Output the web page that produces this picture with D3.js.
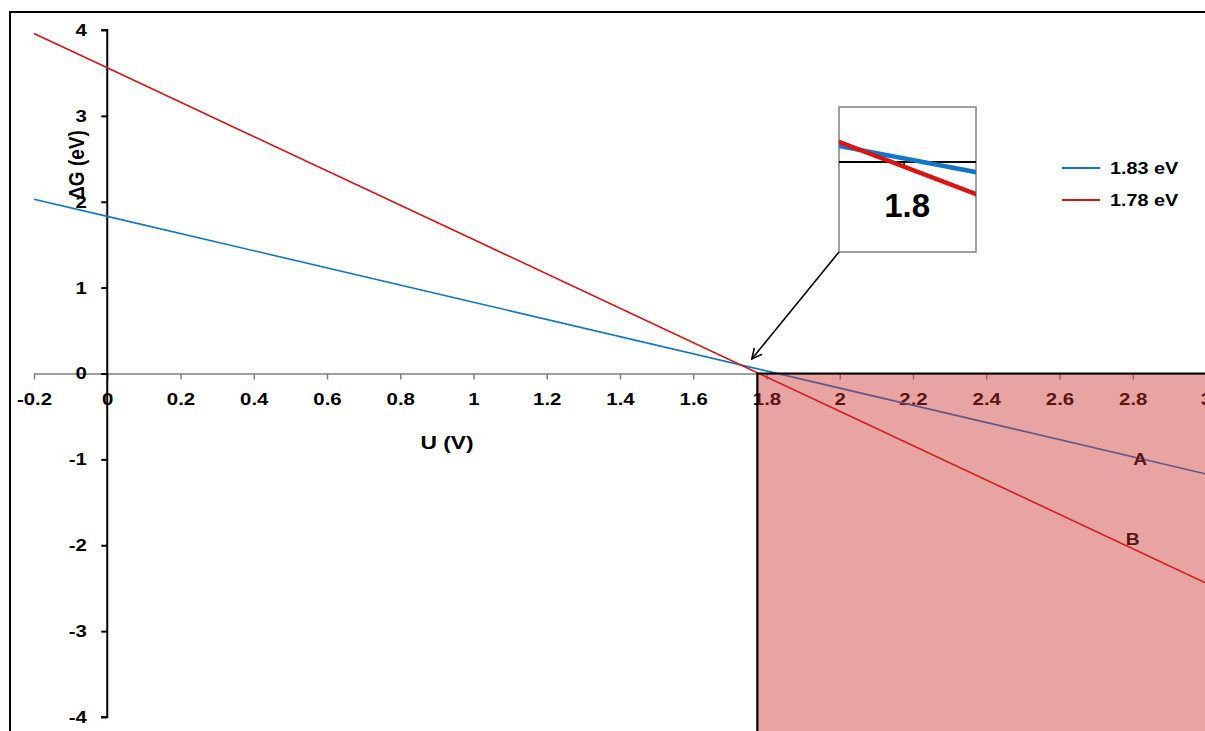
<!DOCTYPE html>
<html><head><meta charset="utf-8">
<script src="https://cdn.jsdelivr.net/npm/d3@7"></script>
<style>body{margin:0;background:#fff}svg{display:block}</style>
</head><body><svg id="c" width="1205" height="731"></svg>
<script>
const uValues = [-0.2, 0, 1, 2, 3];
const blueValues = [2.03, 1.83, 0.83, -0.17, -1.17];   // 1.83 eV
const redValues  = [3.96, 3.56, 1.56, -0.44, -2.44];   // 1.78 eV
const seriesNames = ["1.83 eV", "1.78 eV"];
const xTicks = [-0.2,0,0.2,0.4,0.6,0.8,1,1.2,1.4,1.6,1.8,2,2.2,2.4,2.6,2.8,3];
const yTicks = [-4,-3,-2,-1,0,1,2,3,4];
const thresholdU = 1.775;
const insetTick = 1.8;
const arrowTarget = [1.76, 0.17];

const FONT = '"Liberation Sans", Arial, sans-serif';
const SX = 1.2; // horizontal stretch of the reference text
const svg = d3.select("#c");
const x = d3.scaleLinear().domain([-0.2, 3]).range([34, 1206]);
const y = d3.scaleLinear().domain([-4, 4]).range([717, 30]);
const colors = ["#1276c8", "#d81414"];
const series = [blueValues, redValues];
const fmt = d => String(d);

function label(g, px, py, txt, size, anchor, sx) {
  return g.append("text").attr("transform", `translate(${px},${py}) scale(${sx||SX},1)`)
    .attr("text-anchor", anchor || "start").attr("font-family", FONT).attr("font-weight", "bold")
    .attr("font-size", size).attr("fill", "#000").text(txt);
}

// outer frame
svg.append("rect").attr("x",10).attr("y",12).attr("width",1220).attr("height",740)
  .attr("fill","none").attr("stroke","#000").attr("stroke-width",2);

// x axis (gray) at y=0
const xAxis = d3.axisBottom(x).tickValues(xTicks).tickSize(6).tickFormat(fmt);
const gx = svg.append("g").attr("transform",`translate(0,${y(0)})`).call(xAxis);
gx.select(".domain").attr("stroke","#808080").attr("stroke-width",1.5).attr("d",`M${x(-0.2)},0.5H${x(3)}`);
gx.selectAll(".tick line").attr("stroke","#808080").attr("stroke-width",1.5);
gx.selectAll(".tick text").attr("fill","#000").attr("font-size",17).attr("dy","0").attr("y",32)
  .attr("font-family",FONT).attr("font-weight","bold").attr("transform",`scale(${SX},1)`);

// y axis at x=0
const yAxis = d3.axisLeft(y).tickValues(yTicks).tickSize(6).tickFormat(fmt);
const gy = svg.append("g").attr("transform",`translate(${x(0)},0)`).call(yAxis);
gy.select(".domain").attr("stroke","#000").attr("stroke-width",2).attr("d",`M-6,${y(4)}H0V${y(-4)}H-6`);
gy.selectAll(".tick line").attr("stroke","#000").attr("stroke-width",2);
gy.selectAll(".tick text").attr("fill","#000").attr("font-size",17).attr("x",-17)
  .attr("font-family",FONT).attr("font-weight","bold").attr("transform",`scale(${SX},1)`);

// axis titles
label(svg, 447, 449, "U (V)", 19, "middle");
svg.append("text").attr("transform",`translate(84,165) scale(${SX},1) rotate(-90)`).attr("text-anchor","middle")
  .attr("font-family",FONT).attr("font-weight","bold").attr("font-size",19).text("ΔG (eV)");

// lines
const line = d3.line().x((d,i)=>x(uValues[i])).y(d=>y(d));
series.forEach((s,k)=>{
  svg.append("path").datum(s).attr("d",line).attr("fill","none").attr("stroke",colors[k]).attr("stroke-width",1.6);
});

// A, B labels
label(svg, x(2.82), y(-1.0)+6, "A", 16, "middle");
label(svg, x(2.80), y(-1.93)+6, "B", 16, "middle");

// shaded region overlay
svg.append("rect").attr("x",x(thresholdU)).attr("y",y(0)).attr("width",600).attr("height",500)
  .attr("fill","rgb(203,45,45)").attr("fill-opacity",0.44).attr("stroke","none");
svg.append("path").attr("d",`M${x(thresholdU)},740V${y(0)}H1210`).attr("fill","none").attr("stroke","#000").attr("stroke-width",2.2);

// legend
const lg = svg.append("g");
seriesNames.forEach((n,k)=>{
  const yy = 168 + k*32;
  lg.append("line").attr("x1",1062).attr("x2",1100).attr("y1",yy).attr("y2",yy).attr("stroke",colors[k]).attr("stroke-width",2);
  label(lg, 1110, yy+6, n, 16.5, "start");
});

// inset
const ix = d3.scaleLinear().domain([1.695, 1.916]).range([839, 976]);
const iy = d3.scaleLinear().domain([-0.763, 0.466]).range([252, 107]);
const inset = svg.append("g");
inset.append("rect").attr("x",839).attr("y",107).attr("width",137).attr("height",145).attr("fill","#fff").attr("stroke","#808080").attr("stroke-width",1.5);
svg.append("clipPath").attr("id","ic").append("rect").attr("x",839).attr("y",107).attr("width",137).attr("height",145);
const ig = inset.append("g").attr("clip-path","url(#ic)");
ig.append("line").attr("x1",839).attr("x2",976).attr("y1",iy(0)).attr("y2",iy(0)).attr("stroke","#000").attr("stroke-width",2);
ig.append("line").attr("x1",ix(insetTick)).attr("x2",ix(insetTick)).attr("y1",iy(0)).attr("y2",iy(0)+5).attr("stroke","#000").attr("stroke-width",1.5);
const iline = d3.line().x((d,i)=>ix(uValues[i])).y(d=>iy(d));
series.forEach((s,k)=>{
  ig.append("path").datum(s).attr("d",iline).attr("fill","none").attr("stroke",colors[k]).attr("stroke-width",4.5);
});
label(inset, ix(insetTick)+3, 217, fmt(insetTick), 33, "middle", 1.0);

// arrow
svg.append("defs").append("marker").attr("id","ah").attr("viewBox","0 0 12 12").attr("refX",11).attr("refY",6)
  .attr("markerWidth",12).attr("markerHeight",12).attr("markerUnits","userSpaceOnUse").attr("orient","auto")
  .append("path").attr("d","M1,1L11,6L1,11").attr("fill","none").attr("stroke","#000").attr("stroke-width",1.6);
svg.append("line").attr("x1",839).attr("y1",252).attr("x2",x(arrowTarget[0])).attr("y2",y(arrowTarget[1]))
  .attr("stroke","#000").attr("stroke-width",1.6).attr("marker-end","url(#ah)");
</script></body></html>
